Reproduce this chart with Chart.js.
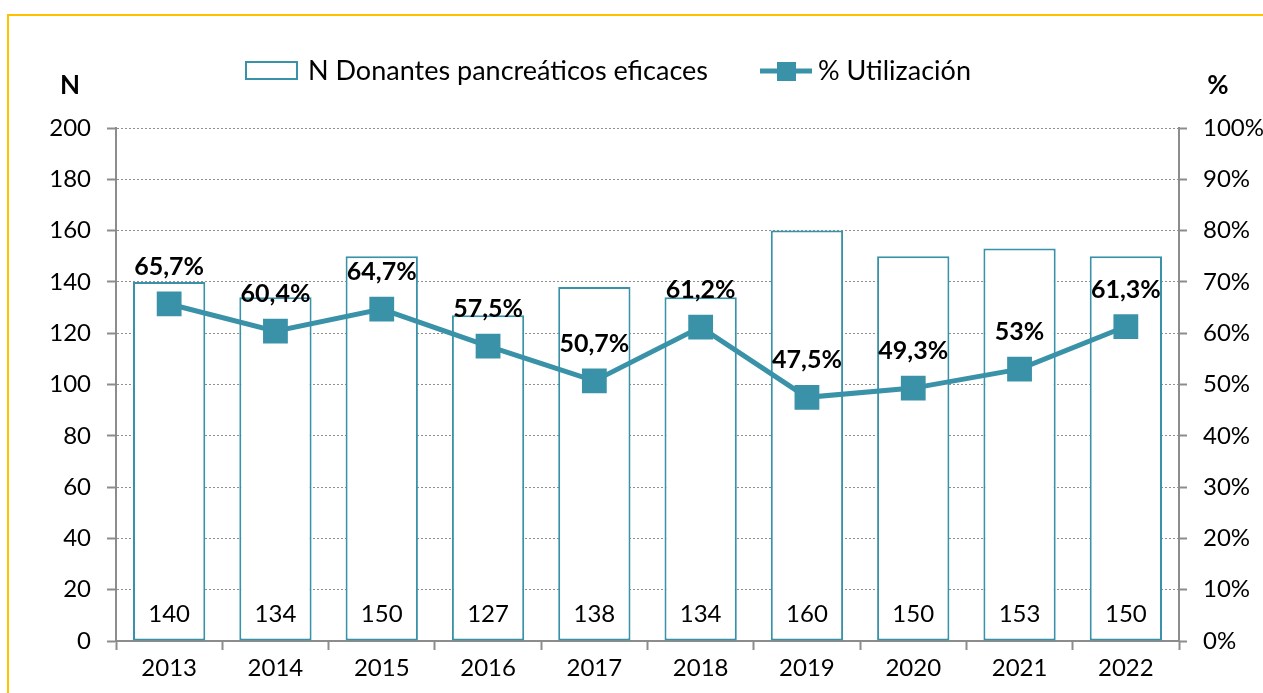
<!DOCTYPE html>
<html>
<head>
<meta charset="utf-8">
<script src="https://cdn.jsdelivr.net/npm/chart.js@4"></script>
<style>
  html, body { margin: 0; padding: 0; background: #fff; }
  #wrap { width: 1263px; height: 693px; }
</style>
</head>
<body>
<div id="wrap"><canvas id="chart" width="1263" height="693"></canvas></div>
<script>
const years = ['2013', '2014', '2015', '2016', '2017', '2018', '2019', '2020', '2021', '2022'];
const donors = [140, 134, 150, 127, 138, 134, 160, 150, 153, 150];
const utilization = [65.7, 60.4, 64.7, 57.5, 50.7, 61.2, 47.5, 49.3, 53, 61.3];
const utilizationLabels = ['65,7%', '60,4%', '64,7%', '57,5%', '50,7%', '61,2%', '47,5%', '49,3%', '53%', '61,3%'];

const TEAL = '#3A92A8';
const AXIS = '#8c8c8c';
const FONT = 'Lato, "Open Sans", sans-serif';

// frame, legend, axis titles and value labels
const decorPlugin = {
    id: 'decor',
    beforeDraw(chart) {
        const ctx = chart.ctx;
        ctx.save();
        ctx.strokeStyle = '#FFC000';
        ctx.lineWidth = 2;
        ctx.strokeRect(8, 15, 1400, 900);
        ctx.restore();
    },
    afterDatasetsDraw(chart) {
        const ctx = chart.ctx;
        ctx.save();
        ctx.fillStyle = '#000';
        ctx.textAlign = 'center';
        ctx.textBaseline = 'middle';

        // bar values near the base (dataset 1 = bars)
        ctx.font = '24px ' + FONT;
        chart.getDatasetMeta(1).data.forEach((bar, i) => {
            ctx.fillText(String(donors[i]), bar.x, bar.base - 26);
        });

        // percentages above the points (dataset 0 = line)
        ctx.font = 'bold 25px ' + FONT;
        chart.getDatasetMeta(0).data.forEach((pt, i) => {
            ctx.fillText(utilizationLabels[i], pt.x, pt.y - 37);
        });

        // axis titles
        ctx.font = 'bold 26px ' + FONT;
        ctx.fillText('N', 70, 86);
        ctx.fillText('%', 1218, 86);

        // legend
        ctx.strokeStyle = TEAL;
        ctx.lineWidth = 2;
        ctx.strokeRect(246, 62, 51, 17);
        ctx.font = '27px ' + FONT;
        ctx.textAlign = 'left';
        ctx.fillText('N Donantes pancreáticos eficaces', 308, 71);

        ctx.lineWidth = 5;
        ctx.beginPath();
        ctx.moveTo(760, 71);
        ctx.lineTo(812, 71);
        ctx.stroke();
        ctx.fillStyle = TEAL;
        ctx.fillRect(777, 62, 19, 19);
        ctx.fillStyle = '#000';
        ctx.fillText('% Utilización', 818, 71);
        ctx.restore();
    }
};

new Chart(document.getElementById('chart'), {
    data: {
        labels: years,
        datasets: [{
            type: 'line',
            label: '% Utilización',
            data: utilization,
            yAxisID: 'y1',
            borderColor: TEAL,
            backgroundColor: TEAL,
            borderWidth: 5,
            pointStyle: 'rect',
            pointRadius: 14,
            pointHoverRadius: 14,
            tension: 0,
            order: 0
        }, {
            type: 'bar',
            label: 'N Donantes pancreáticos eficaces',
            data: donors,
            yAxisID: 'y',
            backgroundColor: '#ffffff',
            borderColor: TEAL,
            borderWidth: 2,
            borderSkipped: false,
            barPercentage: 0.68,
            categoryPercentage: 1,
            order: 1
        }]
    },
    options: {
        responsive: false,
        animation: false,
        layout: { padding: { top: 128, left: 0, right: 0, bottom: 0 } },
        plugins: {
            legend: { display: false },
            tooltip: { enabled: false }
        },
        scales: {
            x: {
                offset: true,
                afterFit: s => { s.height = 52; },
                grid: {
                    offset: true,
                    drawOnChartArea: false,
                    tickLength: 9,
                    tickColor: AXIS,
                    tickWidth: 2
                },
                border: { color: AXIS, width: 2 },
                ticks: { color: '#000', font: { size: 24, family: FONT }, padding: 4 }
            },
            y: {
                position: 'left',
                min: 0,
                max: 200,
                afterFit: s => { s.width = 116; },
                grid: {
                    color: '#8f8f8f',
                    lineWidth: 1,
                    tickLength: 9,
                    tickColor: AXIS,
                    tickWidth: 2
                },
                border: { color: AXIS, width: 2, dash: [2, 2] },
                ticks: { stepSize: 20, color: '#000', font: { size: 24, family: FONT }, padding: 16 }
            },
            y1: {
                position: 'right',
                min: 0,
                max: 100,
                afterFit: s => { s.width = 84; },
                grid: {
                    drawOnChartArea: false,
                    tickLength: 8,
                    tickColor: AXIS,
                    tickWidth: 2
                },
                border: { color: AXIS, width: 2 },
                ticks: {
                    stepSize: 10,
                    color: '#000',
                    font: { size: 24, family: FONT },
                    padding: 16,
                    callback: v => v + '%'
                }
            }
        }
    },
    plugins: [decorPlugin]
});
</script>
</body>
</html>
